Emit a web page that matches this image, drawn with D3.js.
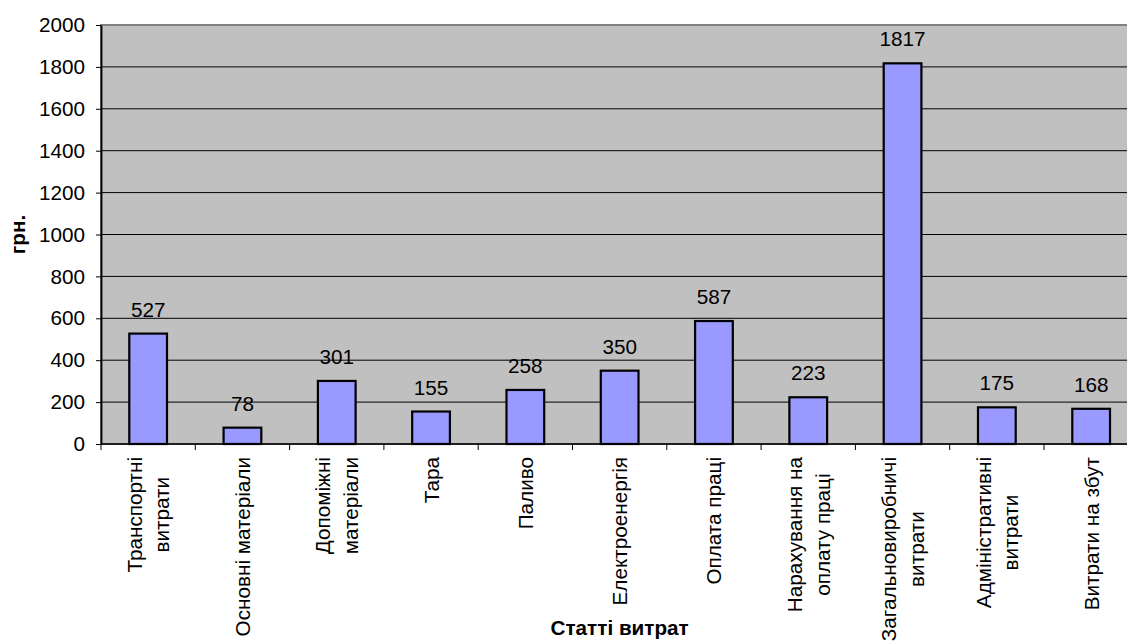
<!DOCTYPE html>
<html>
<head>
<meta charset="utf-8">
<script src="https://cdn.jsdelivr.net/npm/d3@7/dist/d3.min.js"></script>
<style>
  body { margin: 0; background: #fff; }
  svg { display: block; }
  svg text { font-family: "Liberation Sans", Arial, sans-serif; }
</style>
</head>
<body>
<script>
// categories (line breaks as in the picture)
const categories = [
  ["Транспортні", "витрати"],
  ["Основні матеріали"],
  ["Допоміжні", "матеріали"],
  ["Тара"],
  ["Паливо"],
  ["Електроенергія"],
  ["Оплата праці"],
  ["Нарахування на", "оплату праці"],
  ["Загальновиробничі", "витрати"],
  ["Адміністративні", "витрати"],
  ["Витрати на збут"]
];
const values = [527, 78, 301, 155, 258, 350, 587, 223, 1817, 175, 168];
const yTicks = [0, 200, 400, 600, 800, 1000, 1200, 1400, 1600, 1800, 2000];
const yTitle = "грн.";
const xTitle = "Статті витрат";

const width = 1127, height = 641;
const margin = { top: 25, left: 101 };
const band = 94.3;
const plotW = band * categories.length;
const plotH = 419;
const fs = 20.7;

const svg = d3.select("body").append("svg")
  .attr("width", width)
  .attr("height", height);

const x = d3.scaleBand()
  .domain(d3.range(categories.length))
  .range([margin.left, margin.left + plotW])
  .paddingInner(0.6)
  .paddingOuter(0.3);

const y = d3.scaleLinear()
  .domain([0, 2000])
  .range([margin.top + plotH, margin.top]);

// plot area
svg.append("rect")
  .attr("x", margin.left)
  .attr("y", margin.top)
  .attr("width", plotW)
  .attr("height", plotH)
  .attr("fill", "#c0c0c0")
  .attr("stroke", "#808080")
  .attr("stroke-width", 2);

// gridlines
svg.append("g")
  .selectAll("line")
  .data(yTicks.filter(d => d > 0 && d < 2000))
  .join("line")
  .attr("x1", margin.left)
  .attr("x2", margin.left + plotW)
  .attr("y1", d => y(d))
  .attr("y2", d => y(d))
  .attr("stroke", "#000")
  .attr("stroke-width", 1);

// bars
svg.append("g")
  .selectAll("rect")
  .data(values)
  .join("rect")
  .attr("x", (d, i) => x(i))
  .attr("y", d => y(d))
  .attr("width", x.bandwidth())
  .attr("height", d => y(0) - y(d))
  .attr("fill", "#9999ff")
  .attr("stroke", "#000")
  .attr("stroke-width", 2.2);

// value labels
svg.append("g")
  .selectAll("text")
  .data(values)
  .join("text")
  .attr("x", (d, i) => x(i) + x.bandwidth() / 2)
  .attr("y", d => y(d) - 17)
  .attr("text-anchor", "middle")
  .attr("font-size", fs)
  .attr("fill", "#000")
  .text(d => d);

// y axis
const yAxis = svg.append("g")
  .attr("transform", `translate(${margin.left},0)`)
  .call(d3.axisLeft(y).tickValues(yTicks).tickFormat(d3.format("d"))
    .tickSize(5).tickPadding(11).tickSizeOuter(0));
yAxis.attr("font-family", null).attr("font-size", null);
yAxis.select(".domain").attr("stroke", "#000").attr("stroke-width", 1.8);
yAxis.selectAll(".tick line").attr("stroke", "#000");
yAxis.selectAll("text").attr("font-size", fs).attr("fill", "#000");

// x axis line and ticks at band boundaries
const xa = svg.append("g");
xa.append("line")
  .attr("x1", margin.left).attr("x2", margin.left + plotW)
  .attr("y1", y(0)).attr("y2", y(0))
  .attr("stroke", "#000").attr("stroke-width", 1.5);
xa.selectAll(".tk")
  .data(d3.range(categories.length + 1))
  .join("line")
  .attr("class", "tk")
  .attr("x1", i => margin.left + i * band)
  .attr("x2", i => margin.left + i * band)
  .attr("y1", y(0))
  .attr("y2", y(0) + 6)
  .attr("stroke", "#000");

// x labels, rotated, lines centred
const lineGap = 27.6;
const lab = svg.append("g")
  .selectAll("g")
  .data(categories)
  .join("g")
  .attr("transform", (d, i) => `translate(${x(i) + x.bandwidth() / 2},457) rotate(-90)`);

lab.each(function(lines) {
  const g = d3.select(this);
  const ts = lines.map((t, j) => g.append("text")
    .attr("text-anchor", "middle")
    .attr("font-size", fs)
    .attr("fill", "#000")
    .attr("y", 7.5 + (j - (lines.length - 1) / 2) * lineGap)
    .text(t));
  const maxLen = d3.max(ts, t => t.node().getComputedTextLength());
  ts.forEach(t => t.attr("x", -maxLen / 2));
});

// axis titles
svg.append("text")
  .attr("transform", `translate(25,${margin.top + plotH / 2}) rotate(-90)`)
  .attr("text-anchor", "middle")
  .attr("font-size", fs)
  .attr("font-weight", "bold")
  .text(yTitle);

svg.append("text")
  .attr("x", margin.left + plotW / 2)
  .attr("y", 635)
  .attr("text-anchor", "middle")
  .attr("font-size", fs)
  .attr("font-weight", "bold")
  .text(xTitle);
</script>
</body>
</html>
